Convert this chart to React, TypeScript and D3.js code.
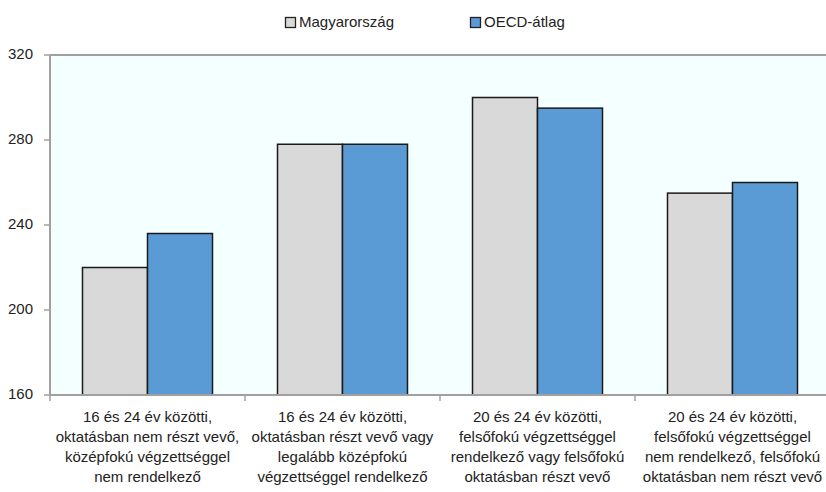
import * as d3 from "d3";

const WIDTH = 826;
const HEIGHT = 492;
const MARGIN = { top: 55, right: -4, bottom: 97, left: 50 };

const categories = [
  ["16 és 24 év közötti,", "oktatásban nem részt vevő,", "középfokú végzettséggel", "nem rendelkező"],
  ["16 és 24 év közötti,", "oktatásban részt vevő vagy", "legalább középfokú", "végzettséggel rendelkező"],
  ["20 és 24 év közötti,", "felsőfokú végzettséggel", "rendelkező vagy felsőfokú", "oktatásban részt vevő"],
  ["20 és 24 év közötti,", "felsőfokú végzettséggel", "nem rendelkező, felsőfokú", "oktatásban nem részt vevő"],
];
const seriesNames = ["Magyarország", "OECD-átlag"];
const hungary = [220, 278, 300, 255];
const oecd = [236, 278, 295, 260];
const yTicks = [160, 200, 240, 280, 320];

const COLORS = ["#d9d9d9", "#5b9bd5"];
const FONT = "'Liberation Sans', Arial, sans-serif";

export default function App() {
  const innerW = WIDTH - MARGIN.left - MARGIN.right;
  const innerH = HEIGHT - MARGIN.top - MARGIN.bottom;
  const ids = categories.map((_, i) => String(i));

  const x = d3.scaleBand().domain(ids).range([0, innerW]).paddingInner(0).paddingOuter(0);
  const inner = d3
    .scaleBand()
    .domain(seriesNames)
    .range([0, x.bandwidth()])
    .paddingInner(0)
    .paddingOuter(0.5);
  const y = d3.scaleLinear().domain([160, 320]).range([innerH, 0]);

  const series = [hungary, oecd];

  return (
    <svg
      width={WIDTH}
      height={HEIGHT}
      style={{ position: "absolute", left: 0, top: 0, background: "#fff" }}
    >
      {/* legend */}
      <g fontFamily={FONT} fontSize={15} fill="#222">
        {seriesNames.map((name, i) => {
          const lx = i === 0 ? 285 : 470;
          return (
            <g key={name} transform={`translate(${lx},17)`}>
              <rect x={0.5} y={0.5} width={10} height={10} fill={COLORS[i]} stroke="#222" strokeWidth={1.3} />
              <text x={14} y={6} dominantBaseline="middle">
                {name}
              </text>
            </g>
          );
        })}
      </g>

      <g transform={`translate(${MARGIN.left},${MARGIN.top})`}>
        <rect x={0} y={0} width={innerW} height={innerH} fill="#f4ffff" />

        {/* y axis */}
        {yTicks.map((t) => (
          <g key={t}>
            <line x1={-6} x2={0} y1={y(t)} y2={y(t)} stroke="#a0a0a0" strokeWidth={1.5} />
            <text
              x={-17}
              y={y(t)}
              textAnchor="end"
              dominantBaseline="middle"
              fontFamily={FONT}
              fontSize={15}
              fill="#222"
            >
              {t}
            </text>
          </g>
        ))}

        {/* bars */}
        {ids.map((id, ci) => (
          <g key={id} transform={`translate(${x(id)},0)`}>
            {seriesNames.map((s, si) => {
              const v = series[si][ci];
              return (
                <rect
                  key={s}
                  x={inner(s)}
                  y={y(v)}
                  width={inner.bandwidth()}
                  height={innerH - y(v)}
                  fill={COLORS[si]}
                  stroke="#1a1a1a"
                  strokeWidth={1.5}
                />
              );
            })}
          </g>
        ))}

        {/* frame lines */}
        <line x1={0} x2={innerW} y1={0} y2={0} stroke="#a0a0a0" strokeWidth={2} />
        <line x1={0} x2={0} y1={0} y2={innerH} stroke="#a0a0a0" strokeWidth={2} />
        <line x1={0} x2={innerW} y1={innerH} y2={innerH} stroke="#a0a0a0" strokeWidth={2} />

        {/* x ticks */}
        {ids.map((id) => (
          <line
            key={id}
            x1={x(id)}
            x2={x(id)}
            y1={innerH}
            y2={innerH + 6}
            stroke="#a0a0a0"
            strokeWidth={1.5}
          />
        ))}

        {/* category labels */}
        {categories.map((lines, ci) => (
          <text
            key={ci}
            x={(x(String(ci)) ?? 0) + x.bandwidth() / 2}
            y={innerH + 22}
            textAnchor="middle"
            fontFamily={FONT}
            fontSize={15}
            fill="#222"
          >
            {lines.map((l, li) => (
              <tspan key={li} x={(x(String(ci)) ?? 0) + x.bandwidth() / 2} dy={li === 0 ? 5 : 20}>
                {l}
              </tspan>
            ))}
          </text>
        ))}
      </g>
    </svg>
  );
}
